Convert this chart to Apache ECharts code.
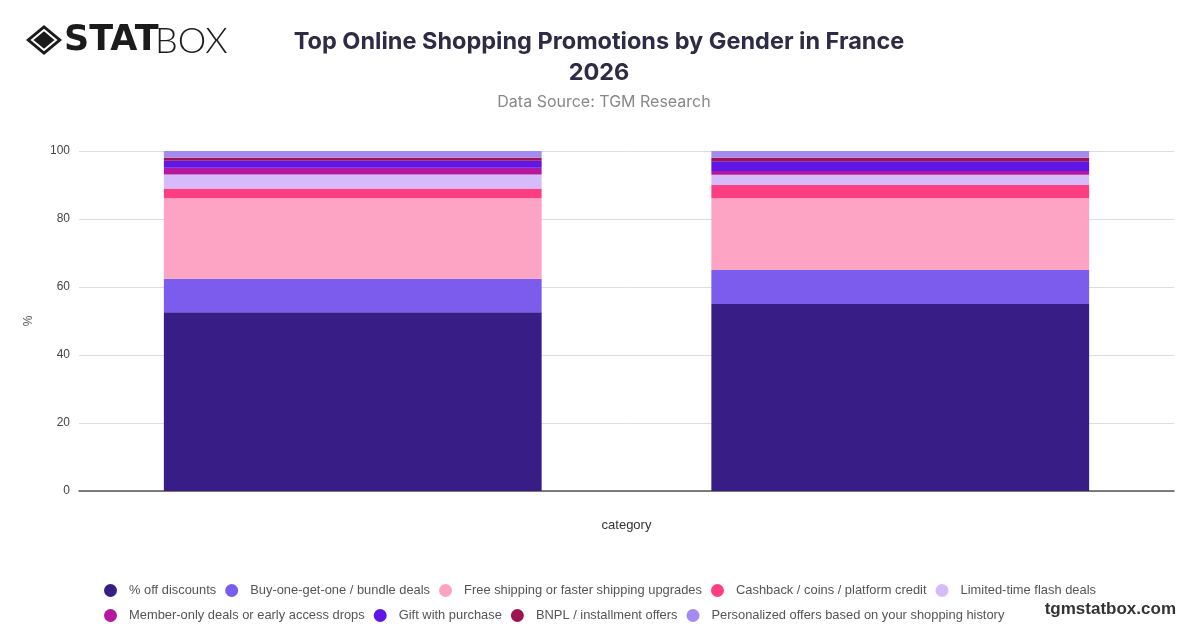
<!DOCTYPE html>
<html><head><meta charset="utf-8">
<script src="https://cdn.jsdelivr.net/npm/echarts@6/dist/echarts.min.js"></script>
<style>html,body{margin:0;padding:0;background:#fff}#c{width:1200px;height:628px}</style>
</head><body><div id="c"></div>
<script>
var categories = ["Male", "Female"];
var seriesNames = ["% off discounts","Buy-one-get-one / bundle deals","Free shipping or faster shipping upgrades","Cashback / coins / platform credit","Limited-time flash deals","Member-only deals or early access drops","Gift with purchase","BNPL / installment offers","Personalized offers based on your shopping history"];
var offDiscounts = [52.6, 55.0];
var bogo = [9.8, 10.0];
var freeShipping = [23.7, 21.1];
var cashback = [2.9, 3.9];
var flashDeals = [4.1, 3.0];
var memberOnly = [2.0, 1.1];
var giftPurchase = [2.0, 2.9];
var bnpl = [0.9, 1.0];
var personalized = [2.0, 2.0];
var yTicks = [0, 20, 40, 60, 80, 100];

var colors = ["#381d86","#7b5ced","#fda3c3","#fd3f81","#d6bbfb","#b5179e","#5f17e8","#9e1450","#a58bf0"];
var values = [offDiscounts,bogo,freeShipping,cashback,flashDeals,memberOnly,giftPurchase,bnpl,personalized];

var chart = echarts.init(document.getElementById('c'), null, {renderer:'canvas'});
var font = 'Inter, "Noto Sans", sans-serif';
var sans = '"Liberation Sans", Arial, sans-serif';
var legendBase = {
  left: 99, icon:'circle', itemWidth:27, itemHeight:13, itemGap:9,
  textStyle:{fontFamily:sans, fontSize:12.9, color:'#555'}
};
chart.setOption({
  animation:false,
  color: colors,
  title: [{
    text: "Top Online Shopping Promotions by Gender in France\n2026",
    left: 594, top: 21, textAlign: 'center',
    textStyle:{fontFamily:font, fontSize:23.5, fontWeight:'bold', color:'#2e2b45', lineHeight:31}
  },{
    text: "Data Source: TGM Research",
    left: 599, top: 89, textAlign:'center',
    textStyle:{fontFamily:font, fontSize:16, fontWeight:'normal', color:'#888'}
  }],
  graphic: [
    {type:'group', left:26, top:25, children:[
      {type:'polygon', shape:{points:[[18,0],[36,15],[18,30],[0,15]]}, style:{fill:'#1b1b1b'}},
      {type:'polygon', shape:{points:[[18,5],[30,15],[18,25],[6,15]]}, style:{fill:'none', stroke:'#fff', lineWidth:2}},
      {type:'polygon', shape:{points:[[18,9.5],[25,15],[18,20.5],[11,15]]}, style:{fill:'#1b1b1b'}}
    ]},
    {type:'text', left:64, top:23, style:{text:'STAT', font:'bold 35px "DejaVu Sans", sans-serif', fill:'#1b1b1b'}},
    {type:'text', left:155, top:23, style:{text:'BOX', font:'300 36px Lato, "Open Sans", sans-serif', fill:'#1b1b1b'}},
    {type:'text', right:24, top:601, style:{text:'tgmstatbox.com', font:'bold 17px "Liberation Sans", Arial, sans-serif', fill:'#333'}}
  ],
  legend: [
    Object.assign({}, legendBase, {top: 579, data: seriesNames.slice(0,5)}),
    Object.assign({}, legendBase, {top: 604, data: seriesNames.slice(5)})
  ],
  grid: {left:79, right:26, top:151, bottom:137, containLabel:false},
  xAxis: {
    type:'category', data: categories,
    name:'category', nameLocation:'middle', nameGap:28,
    nameTextStyle:{fontFamily:sans, fontSize:13, color:'#333'},
    axisLabel:{show:false}, axisTick:{show:false},
    axisLine:{lineStyle:{color:'#555', width:1.5}}
  },
  yAxis: {
    type:'value', min:0, max:100, interval:20,
    name:'%', nameLocation:'middle', nameGap:44, nameRotate:90,
    nameTextStyle:{fontFamily:sans, fontSize:12, color:'#555'},
    axisLabel:{fontFamily:sans, fontSize:12, color:'#444', margin:9},
    splitLine:{lineStyle:{color:'#ddd'}},
    axisLine:{show:false}, axisTick:{show:false}
  },
  series: seriesNames.map(function(n,i){
    return {name:n, type:'bar', stack:'total', barWidth:'69%', data: values[i], itemStyle:{color:colors[i]}};
  })
});
</script></body></html>
